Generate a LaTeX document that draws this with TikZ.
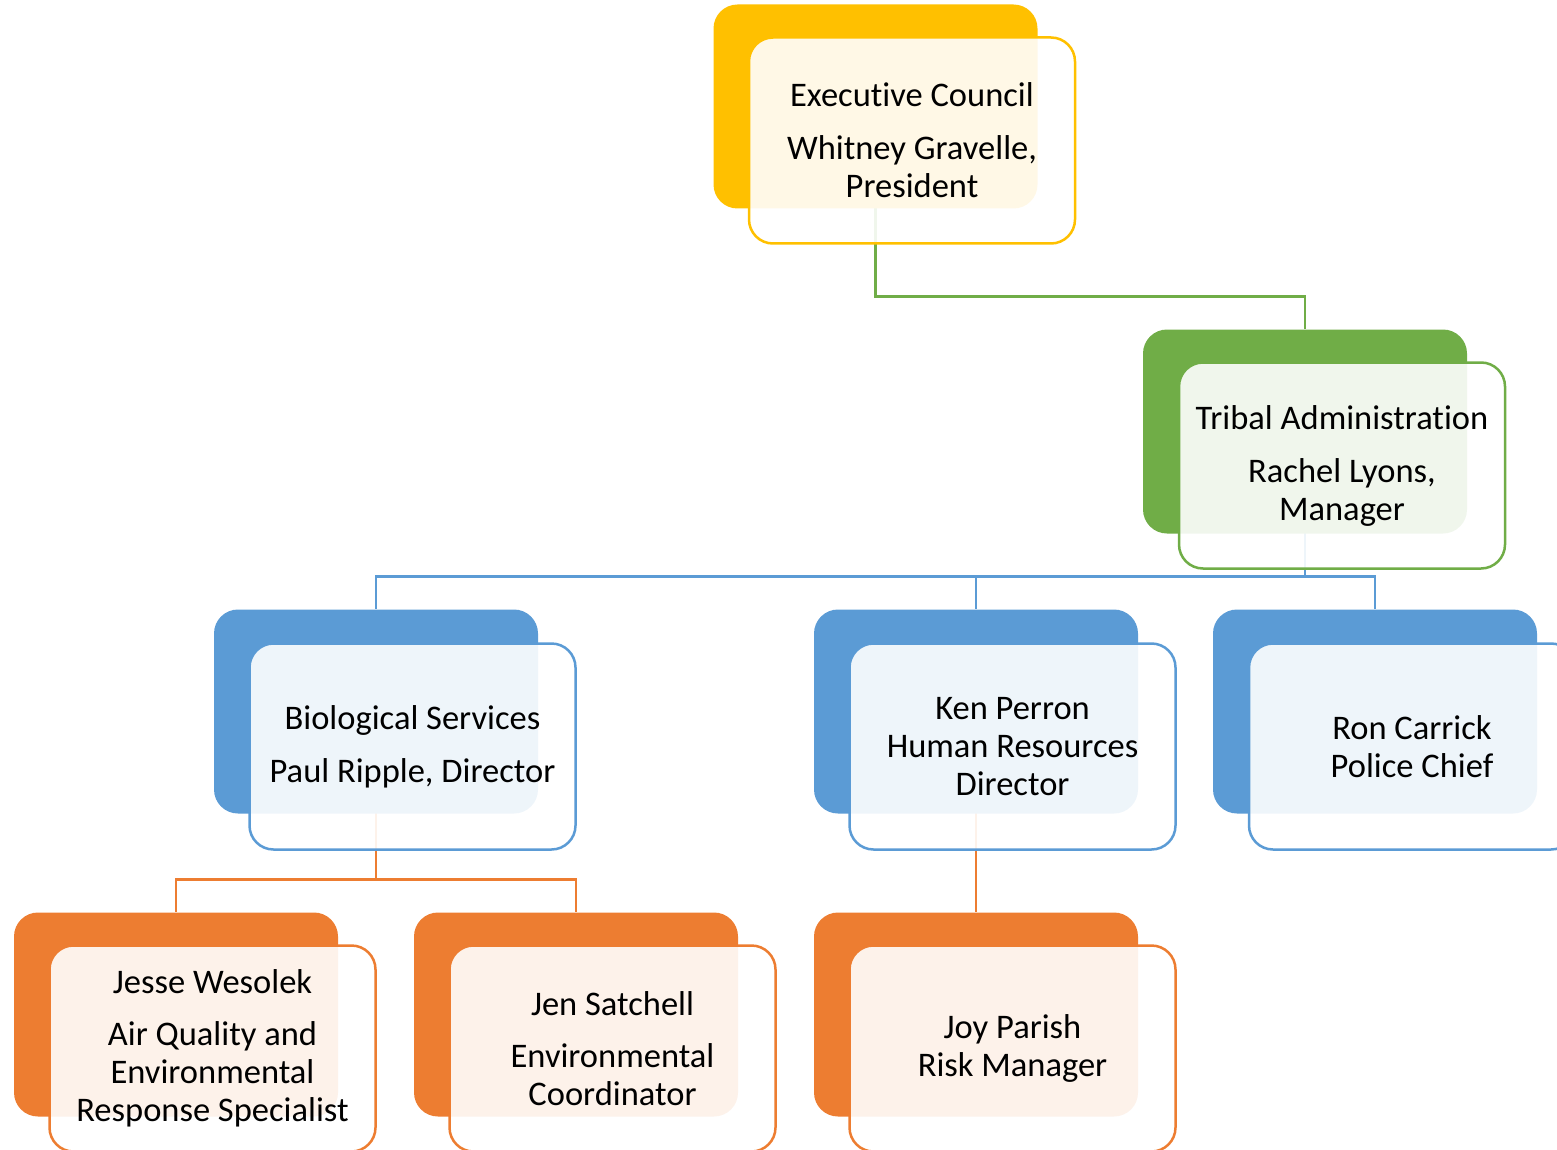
\documentclass[tikz,border=0pt]{standalone}
\usepackage{fontspec}
\setmainfont{Carlito}[Ligatures=NoCommon]
\usetikzlibrary{calc,backgrounds}
\definecolor{cy}{HTML}{FFC000}
\definecolor{cg}{HTML}{70AD47}
\definecolor{cb}{HTML}{5B9BD5}
\definecolor{co}{HTML}{ED7D31}
\tikzset{
 backbox/.style={rectangle, rounded corners=24pt, fill=#1, minimum width=324pt, minimum height=204pt, inner sep=0pt},
 frontbox/.style={rectangle, rounded corners=24pt, draw=#1, line width=2.5pt, fill=white, fill opacity=0.9, text opacity=1, minimum width=326pt, minimum height=206pt, inner sep=2pt, align=center, font=\fontsize{34.5}{38}\selectfont},
 conn/.style={draw=#1, line width=2.5pt},
}
\begin{document}
\begin{tikzpicture}[x=1pt,y=-1pt]
\useasboundingbox (0,0) rectangle (1557,1150);
\clip (0,0) rectangle (1557,1150);
% back boxes
\node[backbox=cy] (eb) at (875.5,106.5) {};
\node[backbox=cg] (tb) at (1305,431.5) {};
\node[backbox=cb] (bb) at (376,711.5) {};
\node[backbox=cb] (kb) at (976,711.5) {};
\node[backbox=cb] (rb) at (1375,711.5) {};
\node[backbox=co] (jwb) at (176,1014.5) {};
\node[backbox=co] (jsb) at (576,1014.5) {};
\node[backbox=co] (jpb) at (976,1014.5) {};
% connectors
\begin{pgfonlayer}{background}
\draw[conn=cg] (eb.center) |- ($(tb.north)+(0,-33)$) -- (tb.north);
\draw[conn=cb] (tb.center) |- ($(bb.north)+(0,-33)$) -- (bb.north);
\draw[conn=cb] (tb.center) |- ($(kb.north)+(0,-33)$) -- (kb.north);
\draw[conn=cb] (tb.center) |- ($(rb.north)+(0,-33)$) -- (rb.north);
\draw[conn=co] (bb.center) |- ($(jwb.north)+(0,-33)$) -- (jwb.north);
\draw[conn=co] (bb.center) |- ($(jsb.north)+(0,-33)$) -- (jsb.north);
\draw[conn=co] (kb.center) -- (jpb.north);
\end{pgfonlayer}
% front boxes
\node[frontbox=cy] (ef) at (912,140.5) {Executive Council\\[15pt]Whitney Gravelle,\\President};
\node[frontbox=cg] (tf) at (1342,465.5) {Tribal Administration\\[15pt]Rachel Lyons,\\Manager};
\node[frontbox=cb] (bf) at (412.5,746.5) {Biological Services\\[15pt]Paul Ripple, Director};
\node[frontbox=cb] (kf) at (1012.5,746.5) {Ken Perron\\Human Resources\\Director};
\node[frontbox=cb] (rf) at (1412,746.5) {Ron Carrick\\Police Chief};
\node[frontbox=co] (jwf) at (212.5,1048.5) {Jesse Wesolek\\[14pt]Air Quality and\\Environmental\\Response Specialist};
\node[frontbox=co] (jsf) at (612.5,1048.5) {Jen Satchell\\[14pt]Environmental\\Coordinator};
\node[frontbox=co] (jpf) at (1012.5,1048.5) {Joy Parish\\Risk Manager};
\end{tikzpicture}
\end{document}
